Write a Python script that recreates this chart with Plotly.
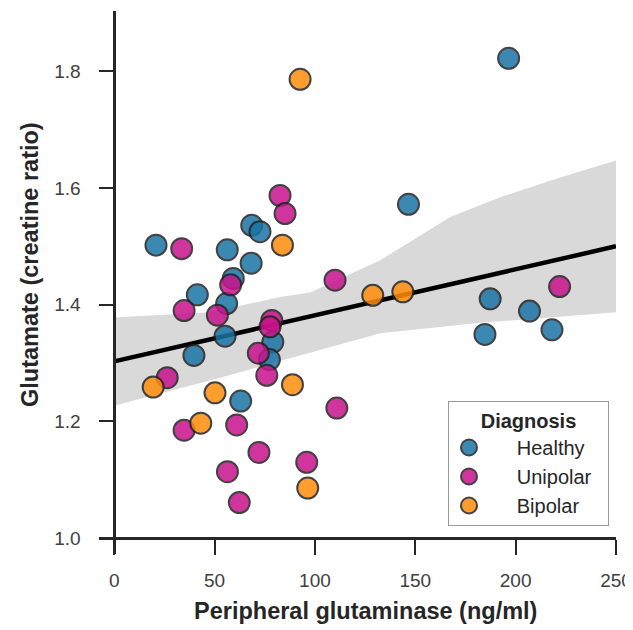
import plotly.graph_objects as go

# ---- data ----
healthy_x = [196.5, 20.8, 146.6, 56.3, 68.5, 72.6, 68.2, 59.3, 41.4, 56.0,
             55.2, 39.7, 79.0, 77.3, 63.0, 187.3, 206.9, 184.7, 218.1]
healthy_y = [1.822, 1.502, 1.572, 1.494, 1.536, 1.525, 1.471, 1.445, 1.417, 1.402,
             1.346, 1.313, 1.336, 1.306, 1.235, 1.410, 1.389, 1.349, 1.357]

unipolar_x = [58.0, 34.8, 51.4, 78.5, 77.6, 71.8, 82.6, 85.1, 33.6, 26.4,
              76.0, 110.9, 34.8, 61.0, 72.1, 56.4, 62.3, 95.9, 110.0, 221.9]
unipolar_y = [1.434, 1.390, 1.382, 1.373, 1.362, 1.317, 1.587, 1.556, 1.496, 1.275,
              1.279, 1.223, 1.185, 1.194, 1.147, 1.114, 1.061, 1.130, 1.442, 1.431]

bipolar_x = [83.8, 19.4, 50.2, 88.8, 43.1, 96.4, 92.6, 128.8, 143.8]
bipolar_y = [1.502, 1.259, 1.249, 1.263, 1.197, 1.086, 1.786, 1.416, 1.422]

fit_x = [0, 250]
fit_y = [1.303, 1.500]

band_upper_x = [0, 47.7, 82.6, 97.6, 132.5, 167.4, 192.3, 222.2, 250]
band_upper_y = [1.378, 1.387, 1.413, 1.421, 1.476, 1.550, 1.584, 1.618, 1.647]
band_lower_x = [0, 22.8, 47.7, 72.6, 92.6, 132.5, 182.3, 217.2, 250]
band_lower_y = [1.227, 1.248, 1.270, 1.294, 1.313, 1.351, 1.369, 1.378, 1.387]

x_ticks = [0, 50, 100, 150, 200, 250]
y_ticks = [1.0, 1.2, 1.4, 1.6, 1.8]
y_tick_labels = ["1.0", "1.2", "1.4", "1.6", "1.8"]

x_title = "Peripheral glutaminase (ng/ml)"
y_title = "Glutamate (creatine ratio)"
legend_title = "Diagnosis"

groups = [
    ("Healthy", healthy_x, healthy_y, "#1a74a5"),
    ("Unipolar", unipolar_x, unipolar_y, "#c8128c"),
    ("Bipolar", bipolar_x, bipolar_y, "#ff8c0a"),
]

X_RANGE = [-7.6, 250]
Y_RANGE = [0.973, 1.903]

FONT = "Liberation Sans, Arial, Helvetica, sans-serif"
INK = "#262626"
TICK_INK = "#404040"

# the page body adds an 8px offset, so the figure is laid out 8px up/left
OFF = 8
W, H = 633, 630
L, R, T, B = 99 - OFF, 17 + OFF, 11 - OFF, 76 + OFF
PW, PH = W - L - R, H - T - B


def px_x(win_x):
    return (win_x - OFF - L) / PW


def px_y(win_y):
    return (H - B - (win_y - OFF)) / PH


NB = "\u00a0"

fig = go.Figure()

# confidence band
fig.add_trace(go.Scatter(
    x=band_upper_x + band_lower_x[::-1],
    y=band_upper_y + band_lower_y[::-1],
    fill="toself", fillcolor="#d9d9d9", line=dict(width=0),
    mode="lines", hoverinfo="skip", showlegend=False,
))

# regression line
fig.add_trace(go.Scatter(
    x=fit_x, y=fit_y, mode="lines",
    line=dict(color="black", width=4.5), showlegend=False, hoverinfo="skip",
))

for name, xs, ys, col in groups:
    fig.add_trace(go.Scatter(
        x=xs, y=ys, mode="markers", name=NB * 5 + name + NB * 2,
        legendgroup=name,
        marker=dict(size=21, color=col, opacity=0.85,
                    line=dict(color="#222222", width=2)),
        cliponaxis=False,
    ))

pos_y = (1.0 - Y_RANGE[0]) / (Y_RANGE[1] - Y_RANGE[0])
pos_x = (0 - X_RANGE[0]) / (X_RANGE[1] - X_RANGE[0])

fig.update_layout(
    width=W, height=H,
    margin=dict(l=L, r=R, t=T, b=B, autoexpand=False),
    plot_bgcolor="white", paper_bgcolor="white",
    font=dict(family=FONT, size=19, color=TICK_INK),
    xaxis=dict(
        range=X_RANGE, anchor="free", position=pos_y, automargin=False,
        showline=True, linecolor=INK, linewidth=2.5,
        ticks="outside", ticklen=15, tickwidth=2, tickcolor=INK,
        tickvals=x_ticks, showgrid=False, zeroline=False,
        tickfont=dict(size=19, color=TICK_INK), ticklabelstandoff=9,
    ),
    yaxis=dict(
        range=Y_RANGE, anchor="free", position=pos_x, automargin=False,
        showline=True, linecolor=INK, linewidth=2.5,
        ticks="outside", ticklen=15, tickwidth=2, tickcolor=INK,
        tickvals=y_ticks, ticktext=y_tick_labels,
        showgrid=False, zeroline=False,
        tickfont=dict(size=19, color=TICK_INK), ticklabelstandoff=14,
    ),
    legend=dict(
        x=px_x(448), y=px_y(401), xanchor="left", yanchor="top",
        bgcolor="white", bordercolor="#999999", borderwidth=1,
        font=dict(size=20, color=INK),
        title=dict(text="<b>" + legend_title + "</b>", side="top center",
                   font=dict(size=20, color=INK)),
        tracegroupgap=0,
    ),
    annotations=[
        dict(text="<b>" + x_title + "</b>", xref="x", x=125,
             yref="paper", y=px_y(611), xanchor="center", yanchor="middle",
             showarrow=False, font=dict(size=23.5, color=INK)),
        dict(text="<b>" + y_title + "</b>", xref="paper", x=px_x(30),
             yref="paper", y=px_y(265), xanchor="center", yanchor="middle",
             textangle=-90, showarrow=False, font=dict(size=23.5, color=INK)),
    ],
)

fig.write_html("out.html")
